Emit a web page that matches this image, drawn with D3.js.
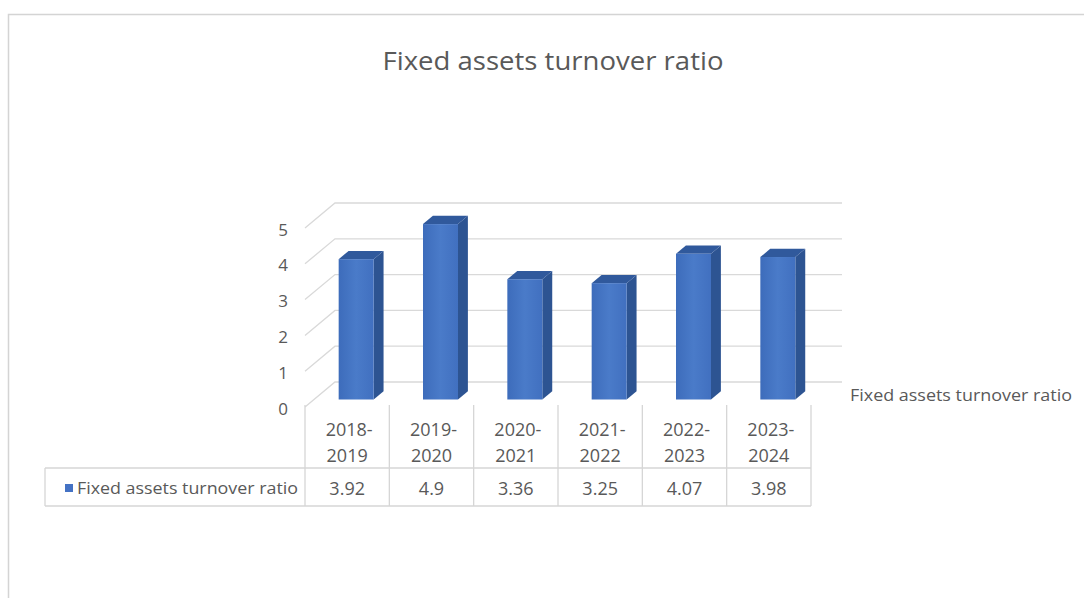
<!DOCTYPE html>
<html>
<head>
<meta charset="utf-8">
<script src="https://cdn.jsdelivr.net/npm/d3@7/dist/d3.min.js"></script>
<style>
  html, body { margin: 0; padding: 0; background: #ffffff; }
  svg { display: block; }
  text { font-family: "Open Sans", "Noto Sans", sans-serif; fill: #595959; }
</style>
</head>
<body>
<svg id="chart" width="1084" height="598"></svg>
<script>
// Chart values
const seriesName = "Fixed assets turnover ratio";
const periods = ["2018-2019", "2019-2020", "2020-2021", "2021-2022", "2022-2023", "2023-2024"];
const ratios = [3.92, 4.9, 3.36, 3.25, 4.07, 3.98];
const valueLabels = ["3.92", "4.9", "3.36", "3.25", "4.07", "3.98"];
const yTicks = [0, 1, 2, 3, 4, 5];

const svg = d3.select("#chart");
const W = 1084, H = 598;

// Plot geometry (front plane of the 3-D box)
const plotLeft = 305, plotRight = 811;
const floorFront = 407, topFront = 228;
const depthX = 30, depthY = -25;          // offset from front plane to back wall
const barZ0 = 0.3, barZ1 = 0.63;          // bar depth range inside the box

const x = d3.scaleBand().domain(periods).range([plotLeft, plotRight]);
const y = d3.scaleLinear().domain([0, 5]).range([floorFront, topFront]);
const barW = x.bandwidth() * 0.415;

// project (screen x on front plane, value, depth 0..1) -> screen point
const proj = (px, v, z) => [px + z * depthX, y(v) + z * depthY];

// Outer chart frame
svg.append("path")
  .attr("d", `M8.5,${H} L8.5,14.5 L${W},14.5`)
  .attr("fill", "none").attr("stroke", "#d4d4d4").attr("stroke-width", 1.5);

// Title
svg.append("text")
  .attr("x", 553).attr("y", 60)
  .attr("text-anchor", "middle").attr("dominant-baseline", "central")
  .attr("font-size", 26)
  .attr("textLength", 341).attr("lengthAdjust", "spacingAndGlyphs")
  .text(seriesName);

// Gridlines: back wall horizontals and side-wall diagonals
const grid = svg.append("g").attr("stroke", "#d9d9d9").attr("stroke-width", 1.3).attr("fill", "none");
grid.selectAll("path").data(yTicks).join("path")
  .attr("d", v => {
    const a = proj(plotLeft, v, 0), b = proj(plotLeft, v, 1), c = proj(plotRight + 1, v, 1);
    return d3.line()([a, b, c]);
  });

// Y tick labels
svg.append("g").selectAll("text").data(yTicks).join("text")
  .attr("x", 288).attr("y", v => y(v) + 1)
  .attr("text-anchor", "end").attr("dominant-baseline", "central")
  .attr("font-size", 17)
  .text(d => d);

// Bar gradient
const defs = svg.append("defs");
const grad = defs.append("linearGradient").attr("id", "barFront").attr("x1", 0).attr("x2", 1).attr("y1", 0).attr("y2", 0);
grad.append("stop").attr("offset", 0).attr("stop-color", "#3d6cbb");
grad.append("stop").attr("offset", 0.5).attr("stop-color", "#4a7bc9");
grad.append("stop").attr("offset", 1).attr("stop-color", "#4170c0");

// Bars
const bars = svg.append("g").selectAll("g").data(periods.map((p, i) => ({ p, v: ratios[i] }))).join("g");
bars.each(function (d) {
  const g = d3.select(this);
  const left = x(d.p) + (x.bandwidth() - barW) / 2;
  const right = left + barW;
  const line = d3.line();
  // side face
  g.append("path")
    .attr("d", line([proj(right, 0, barZ0), proj(right, 0, barZ1), proj(right, d.v, barZ1), proj(right, d.v, barZ0)]) + "Z")
    .attr("fill", "#2d5492");
  // top face
  g.append("path")
    .attr("d", line([proj(left, d.v, barZ0), proj(left, d.v, barZ1), proj(right, d.v, barZ1), proj(right, d.v, barZ0)]) + "Z")
    .attr("fill", "#30599c");
  // front face
  const a = proj(left, d.v, barZ0), b = proj(right, 0, barZ0);
  g.append("rect")
    .attr("x", a[0]).attr("y", a[1])
    .attr("width", b[0] - a[0]).attr("height", b[1] - a[1])
    .attr("fill", "url(#barFront)");
});

// Series name to the right of the plot
svg.append("text")
  .attr("x", 850).attr("y", 395)
  .attr("dominant-baseline", "central")
  .attr("font-size", 16)
  .attr("textLength", 222).attr("lengthAdjust", "spacingAndGlyphs")
  .text(seriesName);

// Data table below the plot
const tableTop = 405, rowSplit = 468, tableBottom = 506, legendLeft = 45;
const tbl = svg.append("g").attr("stroke", "#d6d6d6").attr("stroke-width", 1.3).attr("fill", "none");
const edges = periods.map(p => x(p)).concat([plotRight]);
tbl.selectAll("line.v").data(edges).join("line")
  .attr("x1", d => d).attr("x2", d => d)
  .attr("y1", tableTop).attr("y2", tableBottom);
tbl.append("line").attr("x1", legendLeft).attr("x2", plotRight).attr("y1", rowSplit).attr("y2", rowSplit);
tbl.append("line").attr("x1", legendLeft).attr("x2", plotRight).attr("y1", tableBottom).attr("y2", tableBottom);
tbl.append("line").attr("x1", legendLeft).attr("x2", legendLeft).attr("y1", rowSplit).attr("y2", tableBottom);

// Header: period labels on two lines
const head = svg.append("g").selectAll("text").data(periods).join("text")
  .attr("x", d => x(d) + x.bandwidth() / 2)
  .attr("text-anchor", "middle")
  .attr("dominant-baseline", "central")
  .attr("font-size", 18);
head.append("tspan").attr("x", d => x(d) + x.bandwidth() / 2 + 2).attr("y", 429).text(d => d.split("-")[0] + "-");
head.append("tspan").attr("x", d => x(d) + x.bandwidth() / 2).attr("y", 455).text(d => d.split("-")[1]);

// Value row
svg.append("g").selectAll("text").data(periods).join("text")
  .attr("x", d => x(d) + x.bandwidth() / 2).attr("y", 488)
  .attr("text-anchor", "middle").attr("dominant-baseline", "central")
  .attr("font-size", 18)
  .text((d, i) => valueLabels[i]);

// Legend key and series name in the table
svg.append("rect").attr("x", 65).attr("y", 484).attr("width", 8).attr("height", 8).attr("fill", "#4472c4");
svg.append("text")
  .attr("x", 77).attr("y", 488)
  .attr("dominant-baseline", "central")
  .attr("font-size", 16)
  .attr("textLength", 221).attr("lengthAdjust", "spacingAndGlyphs")
  .text(seriesName);
</script>
</body>
</html>
